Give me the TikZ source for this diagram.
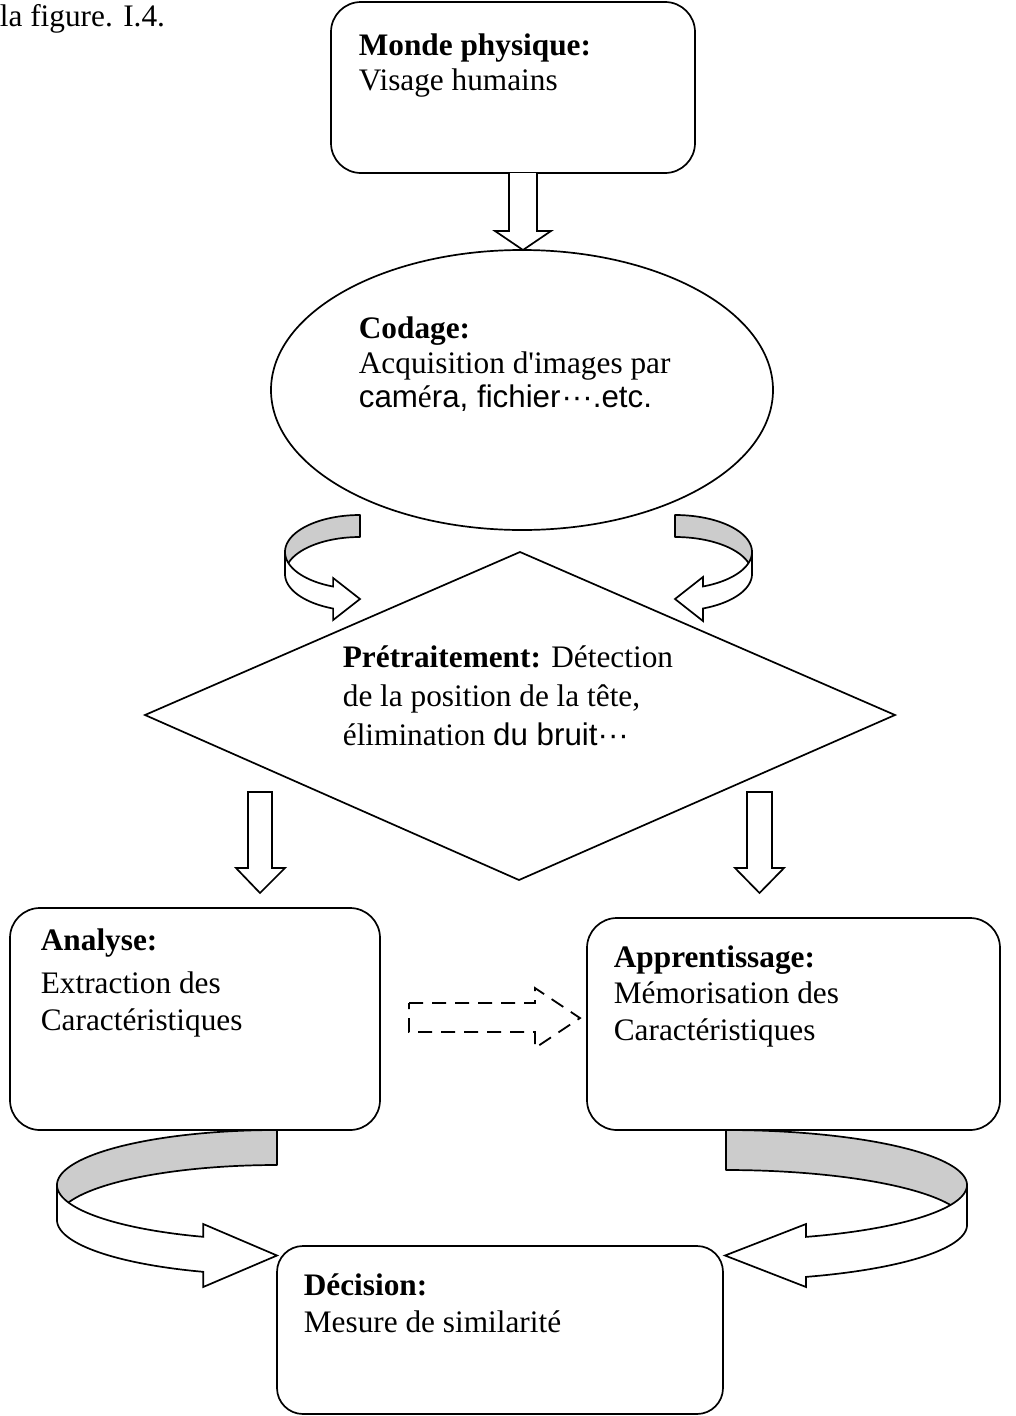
\documentclass[tikz,border=0pt]{standalone}
\usepackage{fontspec}
\setmainfont{Liberation Serif}
\newfontfamily\sansf{Liberation Sans}
\usetikzlibrary{shapes.geometric}
\newcommand{\rbnLeft}[9]{%
 \draw[ribbonback] plot[domain=-90:-180,samples=60] ({#1+#3*cos(\x)},{#2+#4*sin(\x)}) -- ({#1-#3},{#2+#5}) -- plot[domain=180:270,samples=60] ({#1+#3*cos(\x)},{#2+#5+#4*sin(\x)}) -- cycle;
 \draw[ribbonfront] plot[domain=180:#6,samples=60] ({#1+#3*cos(\x)},{#2+#4*sin(\x)}) -- ({#1+#3*cos(#6)},#7) -- (#9,{(#7+#8)/2}) -- ({#1+#3*cos(#6)},#8) -- plot[domain=#6:180,samples=60] ({#1+#3*cos(\x)},{#2+#5+#4*sin(\x)}) -- cycle;}
\newcommand{\rbnRight}[9]{%
 \draw[ribbonback] plot[domain=-90:0,samples=60] ({#1+#3*cos(\x)},{#2+#4*sin(\x)}) -- ({#1+#3},{#2+#5}) -- plot[domain=0:-90,samples=60] ({#1+#3*cos(\x)},{#2+#5+#4*sin(\x)}) -- cycle;
 \draw[ribbonfront] plot[domain=0:#6,samples=60] ({#1+#3*cos(\x)},{#2+#4*sin(\x)}) -- ({#1+#3*cos(#6)},#7) -- (#9,{(#7+#8)/2}) -- ({#1+#3*cos(#6)},#8) -- plot[domain=#6:0,samples=60] ({#1+#3*cos(\x)},{#2+#5+#4*sin(\x)}) -- cycle;}
\begin{document}
\begin{tikzpicture}[x=1pt,y=-1pt,line width=1.7pt,
  lbl/.style={anchor=base west,inner sep=0pt,font=\fontsize{31.3pt}{36pt}\selectfont},
  rbox/.style={draw,rounded corners=30pt,inner sep=0pt},
  oval/.style={draw,ellipse,inner sep=0pt},
  blockarrow/.style={draw,fill=white,line join=miter},
  dasharrow/.style={draw,line width=1.8pt,dash pattern=on 14pt off 9pt},
  ribbonback/.style={draw,fill=gray!40,line join=round},
  ribbonfront/.style={draw,fill=white,line join=miter}]
\useasboundingbox (0,0) rectangle (1016,1416);
% boxes
\node[rbox,minimum width=364pt,minimum height=171pt] (monde) at (513,87.5) {};
\node[oval,minimum width=502pt,minimum height=280pt] (codage) at (522,390) {};
\coordinate (dT) at (520,552);
\coordinate (dL) at (145,715);
\coordinate (dR) at (895,715);
\coordinate (dB) at (519,880);
\draw (dT) -- (dR) -- (dB) -- (dL) -- cycle;
\node[rbox,minimum width=370pt,minimum height=222pt] (analyse) at (195,1019) {};
\node[rbox,minimum width=413pt,minimum height=212pt] (appr) at (793.5,1024) {};
\node[rbox,minimum width=446pt,minimum height=168pt,rounded corners=26pt] (decision) at (500,1330) {};
% texts
\node[lbl] (fig) at (-1,27) {la figure. I.4.};
\node[lbl] (mondeA) at (358,55) {\textbf{Monde physique:}};
\node[lbl] (mondeB) at (358,90) {Visage humains};
\node[lbl] (codA) at (358,338) {\textbf{Codage:}};
\node[lbl] (codB) at (358,373) {Acquisition d\textquotesingle images par};
\node[lbl] (codC) at (358,407) {{\sansf cam}é{\sansf ra, fichier\kern1pt···.etc.}};
\node[lbl] (preA) at (342,667) {\textbf{Prétraitement:} Détection};
\node[lbl] (preB) at (342,706) {de la position de la tête,};
\node[lbl] (preC) at (342,745) {élimination {\sansf du bruit···}};
\node[lbl] (anaA) at (40,950) {\textbf{Analyse:}};
\node[lbl] (anaB) at (40,993) {Extraction des};
\node[lbl] (anaC) at (40,1030) {Caractéristiques};
\node[lbl] (appA) at (613,967) {\textbf{Apprentissage:}};
\node[lbl] (appB) at (613,1003) {Mémorisation des};
\node[lbl] (appC) at (613,1040) {Caractéristiques};
\node[lbl] (decA) at (303,1295) {\textbf{Décision:}};
\node[lbl] (decB) at (303,1332) {Mesure de similarité};
% straight block arrows
\draw[blockarrow] (509,173) -- (509,231) -- (495,231) -- (523,250) -- (551,231) -- (537,231) -- (537,173);
\draw[blockarrow] (248,792) -- (248,868) -- (236,868) -- (260,893) -- (285,868) -- (272,868) -- (272,792) -- cycle;
\draw[blockarrow] (747,792) -- (747,868) -- (735,868) -- (759.5,893) -- (784,868) -- (772,868) -- (772,792) -- cycle;
% dashed arrow
\draw[dasharrow] (409,1003) -- (535,1003) -- (535,988) -- (580,1018) -- (535,1048) -- (535,1032) -- (409,1032) -- cycle;
% ribbon arrows
\rbnLeft{360}{552}{75}{37}{22}{111}{578}{620}{360}
\rbnRight{675}{552}{77}{37}{22}{68.7}{577}{621}{675}
\rbnLeft{277}{1185}{220}{55}{35}{109.6}{1224}{1287}{277}
\rbnRight{726}{1185}{241}{55}{40}{70.6}{1224}{1287}{725}
\end{tikzpicture}
\end{document}
